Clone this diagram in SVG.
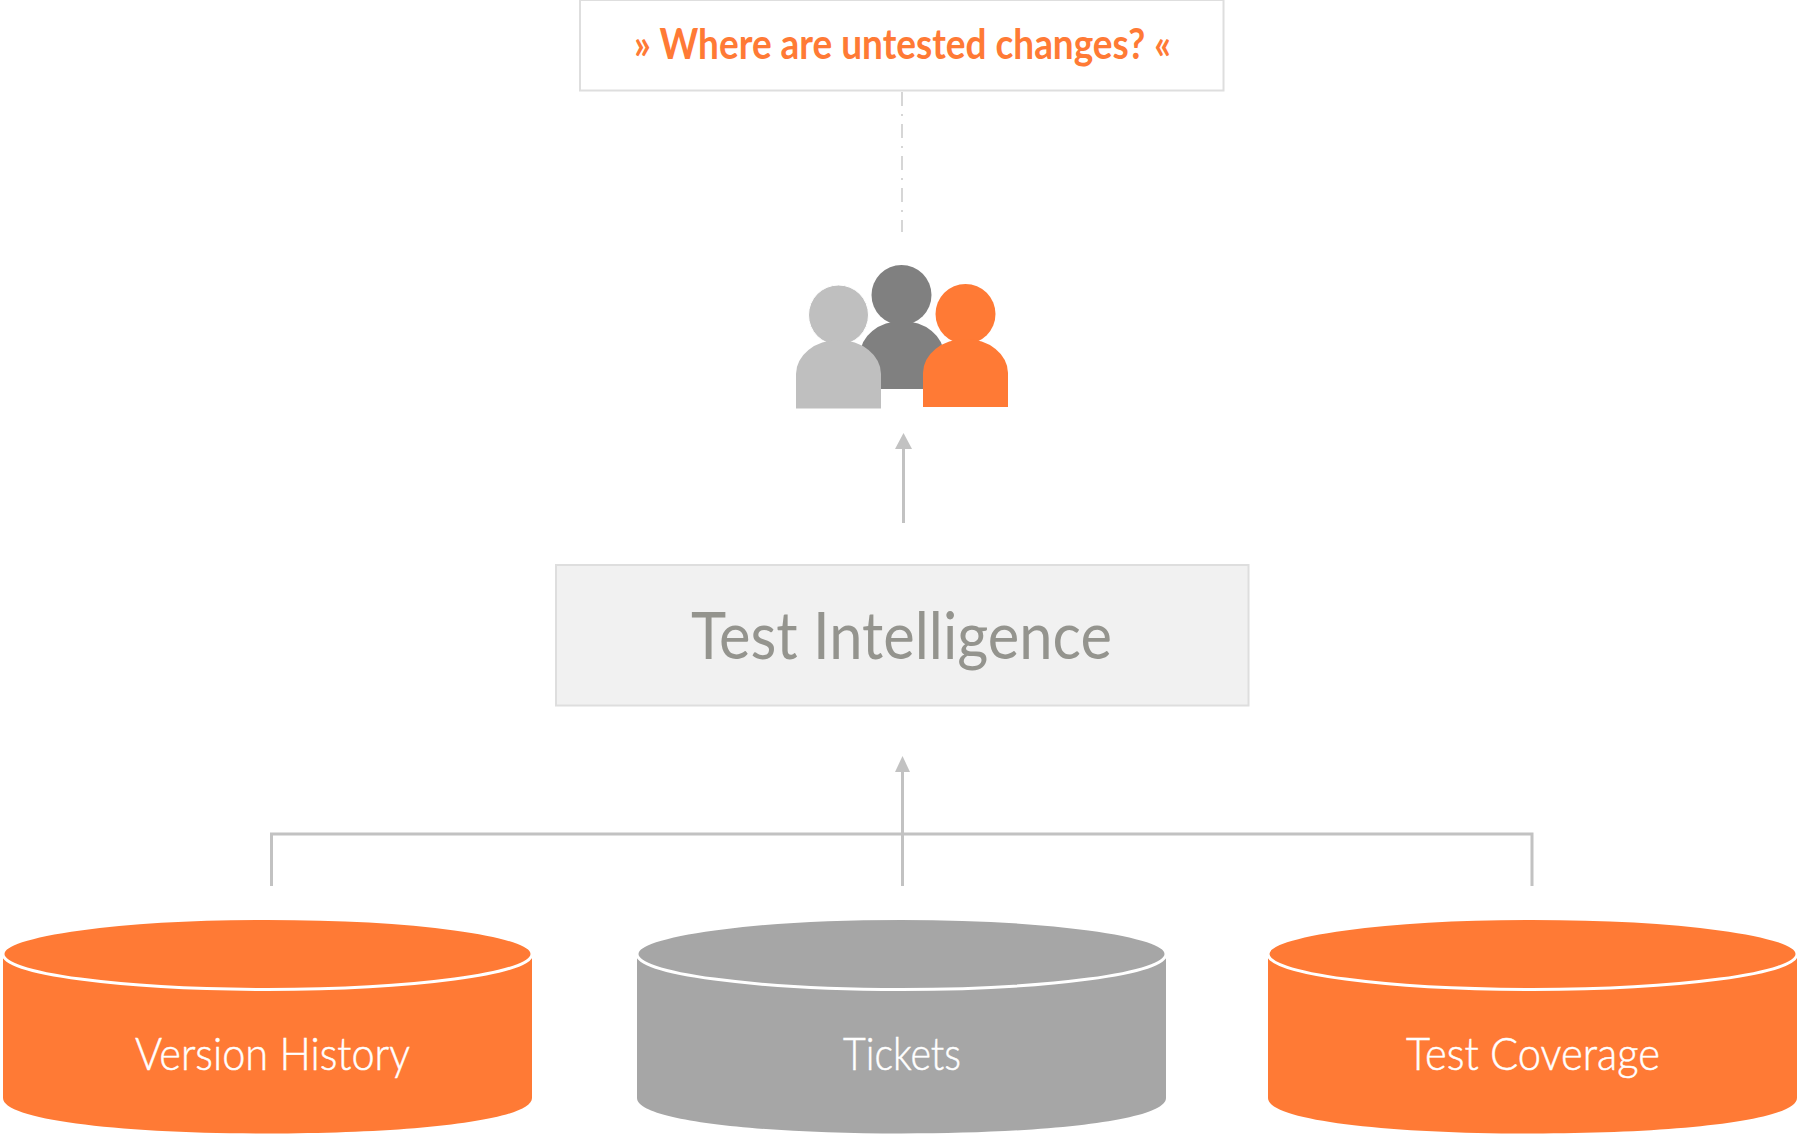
<svg xmlns="http://www.w3.org/2000/svg" width="1798" height="1134" viewBox="0 0 1798 1134">
<style>
text{font-family:"Lato","Liberation Sans",sans-serif;text-anchor:start}
.conn{fill:none;stroke:#c2c2c2;stroke-width:3}
.head{fill:#c2c2c2;stroke:none}
.orange{fill:#ff7a35}
.grey{fill:#a6a6a6}
.cap{stroke:#fff;stroke-width:3}
.dbl{font-size:45px;font-weight:300;fill:#fff;stroke:#fff;stroke-width:0.5}
</style>
<rect width="1798" height="1134" fill="#fff"/>
<g id="connectors">
<path d="M902 92V232" fill="none" stroke="#d6d6d6" stroke-width="2" stroke-dasharray="14 8 2 8"/>
<path class="conn" d="M903.500 523V448"/>
<path class="head" d="M903.500 433L912 449H895Z"/>
<path class="conn" d="M902.500 886V770"/>
<path class="head" d="M902.500 756L910 772H895Z"/>
<path class="conn" d="M271.500 886V834H1532V886"/>
</g>
<g id="question">
<rect x="580" y="0" width="643.500" height="90.500" fill="#fff" stroke="#dedede" stroke-width="2"/>
<text x="634" y="59" font-size="42" font-weight="700" fill="#ff7a35" textLength="537" lengthAdjust="spacingAndGlyphs">» Where are untested changes? «</text>
</g>
<g id="people">
<g id="person-mid" fill="#808080">
<circle cx="901.500" cy="295" r="30"/>
<path d="M860 389V355a42 34 0 0 1 84 0V389Z"/>
</g>
<g id="person-left" fill="#bfbfbf">
<circle cx="838.500" cy="315" r="30" stroke="#fff" stroke-width="1"/>
<path d="M796 408.500V374a42.500 34 0 0 1 85 0V408.500Z"/>
</g>
<g id="person-right" class="orange">
<circle cx="965.500" cy="314" r="30"/>
<path d="M923 407V373a42.500 34 0 0 1 85 0V407Z"/>
</g>
</g>
<g id="test-intelligence">
<rect x="556" y="565" width="692.500" height="140.500" fill="#f1f1f1" stroke="#dedede" stroke-width="2"/>
<text x="691" y="659" font-size="66" font-weight="400" fill="#94948e" textLength="421" lengthAdjust="spacingAndGlyphs">Test Intelligence</text>
</g>
<g id="version-history">
<path class="orange" d="M3 954V1098C3 1120 120 1133.500 267.500 1133.500S532 1120 532 1098V954Z"/>
<ellipse class="orange cap" cx="267.500" cy="954" rx="264.500" ry="35.500"/>
<text class="dbl" x="135" y="1070" textLength="275" lengthAdjust="spacingAndGlyphs">Version History</text>
</g>
<g id="tickets">
<path class="grey" d="M637 954V1098C637 1120 754 1133.500 901.500 1133.500S1166 1120 1166 1098V954Z"/>
<ellipse class="grey cap" cx="901.500" cy="954" rx="264.500" ry="35.500"/>
<text class="dbl" x="843" y="1070" textLength="118" lengthAdjust="spacingAndGlyphs">Tickets</text>
</g>
<g id="test-coverage">
<path class="orange" d="M1268 954V1098C1268 1120 1385 1133.500 1532.500 1133.500S1797 1120 1797 1098V954Z"/>
<ellipse class="orange cap" cx="1532.500" cy="954" rx="264.500" ry="35.500"/>
<text class="dbl" x="1406" y="1070" textLength="254" lengthAdjust="spacingAndGlyphs">Test Coverage</text>
</g>
</svg>
